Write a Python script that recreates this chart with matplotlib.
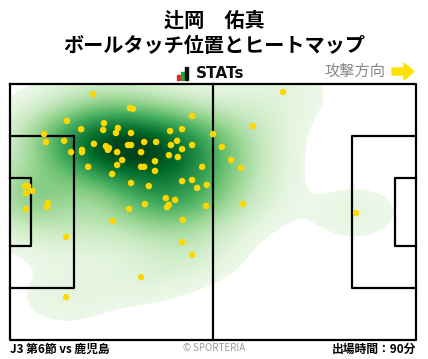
import matplotlib
matplotlib.use("Agg")
import matplotlib.pyplot as plt
from matplotlib.patches import Rectangle, Polygon
from matplotlib.colors import ListedColormap, PowerNorm
import numpy as np

plt.rcParams['font.family'] = ['Noto Sans CJK JP', 'DejaVu Sans']

# ball touch positions, metres on a 105 x 68 pitch (y from top touchline)
touch_x = [21.5, 31.0, 31.8, 47.1, 14.7, 24.3, 18.4, 24.1, 27.9, 27.4,
           31.3, 41.4, 44.5, 8.8, 52.5, 9.3, 14.0, 21.7, 24.8, 25.6,
           25.3, 30.5, 31.3, 34.7, 37.8, 43.2, 41.6, 47.1, 44.5, 15.8,
           18.6, 18.6, 27.7, 33.9, 41.1, 43.4, 29.0, 37.5, 20.2, 27.7,
           33.9, 34.7, 37.5, 49.7, 26.4, 44.5, 47.1, 48.4, 50.9, 31.3,
           35.9, 3.9, 4.7, 5.7, 4.1, 9.8, 9.6, 4.1, 30.8, 34.9,
           40.3, 42.7, 41.1, 40.6, 50.7, 14.5, 26.6, 44.7, 44.5, 47.1,
           33.9, 14.5, 70.6, 62.8, 54.8, 57.2, 59.7, 60.3, 89.5]
touch_y = [2.7, 6.4, 6.6, 8.5, 9.8, 10.4, 12.0, 12.2, 11.7, 13.0,
           13.0, 12.5, 12.0, 13.3, 13.3, 15.4, 15.1, 15.9, 16.5, 17.0,
           17.5, 16.2, 16.2, 15.4, 15.4, 15.1, 16.2, 16.2, 17.3, 18.1,
           17.5, 18.1, 18.1, 18.1, 18.9, 19.4, 20.2, 20.5, 22.0, 21.5,
           22.0, 22.0, 23.1, 22.0, 23.9, 25.8, 25.5, 27.6, 26.8, 26.3,
           27.1, 27.1, 27.1, 28.4, 29.0, 31.6, 32.7, 33.2, 33.2, 31.9,
           30.3, 30.8, 32.1, 32.7, 32.4, 40.6, 36.4, 36.1, 42.0, 45.4,
           51.3, 56.6, 2.1, 11.2, 16.7, 20.2, 22.3, 31.9, 34.3]

title_name = "辻岡　佑真"
title_sub = "ボールタッチ位置とヒートマップ"
match_label = "J3 第6節 vs 鹿児島"
minutes_label = "出場時間：90分"

L, W = 105.0, 68.0
H = 359.0

fig = plt.figure(figsize=(4.28, 3.59), dpi=100)
ax = fig.add_axes([10 / 428, 19 / H, 406 / 428, 256 / H])

# gaussian kde (scott's rule, a bit wider)
pts = np.vstack([touch_x, touch_y])
n = pts.shape[1]
cov = np.cov(pts) * n ** (-2.0 / 6.0) * 1.15 ** 2
inv = np.linalg.inv(cov)
gx, gy = np.meshgrid(np.linspace(0, L, 812), np.linspace(0, W, 512))
dens = np.zeros_like(gx)
for px, py in zip(touch_x, touch_y):
    dx = gx - px
    dy = gy - py
    dens += np.exp(-0.5 * (inv[0, 0] * dx * dx + 2 * inv[0, 1] * dx * dy + inv[1, 1] * dy * dy))
dens /= dens.max()

thresh = 0.025
greens = plt.get_cmap('Greens')
cmap = ListedColormap(greens(np.linspace(0.07, 1.0, 256)))
cmap.set_under((1, 1, 1, 0))
ax.imshow(dens, cmap=cmap, norm=PowerNorm(0.8, vmin=thresh, vmax=0.97), extent=(0, L, W, 0),
          interpolation='nearest', zorder=1, aspect='auto')

# pitch lines
lk = dict(color='black', lw=1.6, clip_on=False, zorder=2, solid_capstyle='projecting')
ax.plot([0, L, L, 0, 0], [0, 0, W, W, 0], **lk)
ax.plot([L / 2, L / 2], [0, W], **lk)
for sgn, x0 in ((1, 0), (-1, L)):
    ax.plot([x0, x0 + sgn * 16.5, x0 + sgn * 16.5, x0],
            [W / 2 - 20.16, W / 2 - 20.16, W / 2 + 20.16, W / 2 + 20.16], **lk)
    ax.plot([x0, x0 + sgn * 5.5, x0 + sgn * 5.5, x0],
            [W / 2 - 9.16, W / 2 - 9.16, W / 2 + 9.16, W / 2 + 9.16], **lk)

ax.scatter(touch_x, touch_y, s=22, color='#FFD700', edgecolors='none', zorder=3, clip_on=False)

ax.set_xlim(0, L)
ax.set_ylim(W, 0)
ax.axis('off')

# header
fig.text(0.5, 1 - 20 / H, title_name, ha='center', va='center', fontsize=14.5, fontweight='bold')
fig.text(0.5, 1 - 46 / H, title_sub, ha='center', va='center', fontsize=14.5, fontweight='bold')


def fr(x, y, w, h, c):
    fig.patches.append(Rectangle((x / 428, 1 - (y + h) / H), w / 428, h / H,
                                 transform=fig.transFigure, color=c, figure=fig))


fr(177, 75, 3, 5, '#e8262a')
fr(181, 72, 3, 8, '#1fa33b')
fr(185, 67, 3, 13, '#111111')
fig.text(196 / 428, 1 - 74 / H, "STATs", ha='left', va='center', fontsize=11,
         fontweight='bold', family='DejaVu Sans', color='#111111')

fig.text(385 / 428, 1 - 71 / H, "攻撃方向", ha='right', va='center', fontsize=11, color='#888888')
arrow = [(392, 68), (404, 68), (404, 63), (414, 71.5), (404, 80), (404, 75), (392, 75)]
fig.patches.append(Polygon([(x / 428, 1 - y / H) for x, y in arrow], closed=True,
                           transform=fig.transFigure, color='#FFE100', figure=fig))

# footer
fig.text(10 / 428, 1 - 349 / H, match_label, ha='left', va='center', fontsize=8.5, fontweight='bold')
fig.text(0.5, 1 - 348 / H, "© SPORTERIA", ha='center', va='center', fontsize=7, color='#999999')
fig.text(416 / 428, 1 - 349 / H, minutes_label, ha='right', va='center', fontsize=8.5, fontweight='bold')

fig.savefig('out.png', dpi=100)
